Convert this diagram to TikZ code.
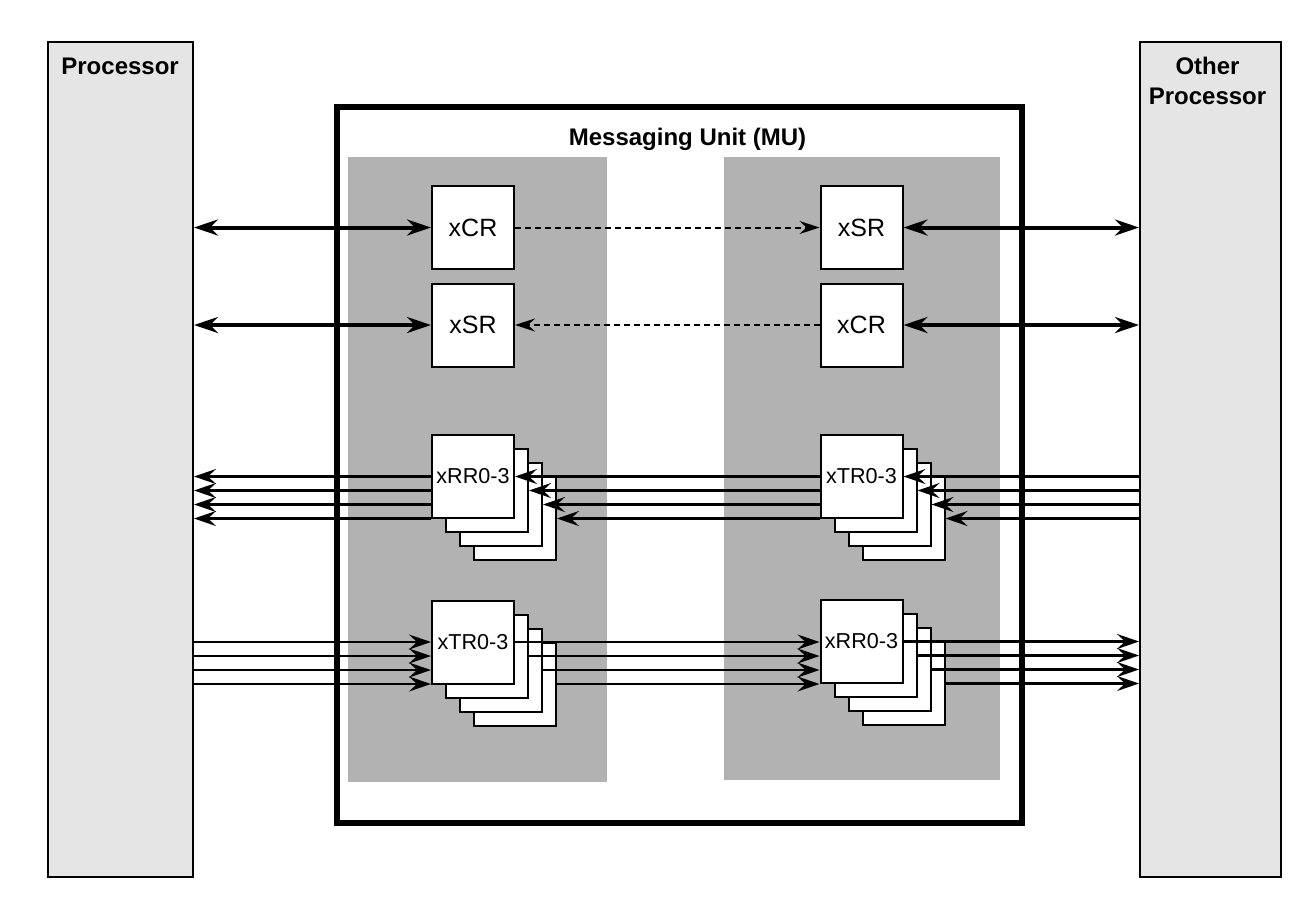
\documentclass[tikz,border=0pt]{standalone}
\usepackage{fontspec}
\setmainfont{Liberation Sans}
\usetikzlibrary{arrows.meta}
\definecolor{procgray}{gray}{0.9}
\definecolor{mugray}{gray}{0.7}
\tikzset{
  regbox/.style={draw=black, line width=1pt, fill=white, minimum width=41pt,
    minimum height=41.5pt, inner sep=0pt, font=\fontsize{12.5}{14}\selectfont},
  procbox/.style={draw=black, line width=1pt, fill=procgray, inner sep=0pt},
  titletext/.style={font=\bfseries\fontsize{12}{15}\selectfont, inner sep=0pt},
  boldarrow/.style={line width=2pt,
    {Stealth[length=12pt,width=8pt,inset=4pt]}-{Stealth[length=12pt,width=8pt,inset=4pt]}},
  sigarrow/.style={line width=1.1pt, -{Stealth[length=11pt,width=7.5pt,inset=4pt]}},
  dasharrow/.style={line width=1pt, dash pattern=on 3pt off 2pt,
    -{Stealth[length=10pt,width=6.5pt,inset=3.5pt]}},
}
% stack of four register boxes, front one labelled
\newcommand{\regstack}[4]{%
  \foreach \k in {3,2,1}{\node[regbox] (#1\k) at ({#2+14*\k},{#3+14*\k}) {};}
  \node[regbox,font=\fontsize{10.8}{12}\selectfont] (#10) at (#2,#3) {#4};}

\begin{document}
\begin{tikzpicture}[x=0.5pt,y=-0.5pt]
\useasboundingbox (0,0) rectangle (1296,918);
% processors
\node[procbox, minimum width=72.5pt, minimum height=417.5pt] (proc) at (120.5,459.5) {};
\node[procbox, minimum width=70.5pt, minimum height=417.5pt] (oproc) at (1210.5,459.5) {};
\node[titletext, anchor=base west] (proclabel) at ([shift={(14,33)}]proc.north west) {Processor};
\node[titletext, anchor=north, align=center] (oproclabel) at ([shift={(-3,16)}]oproc.north) {Other\\Processor};
% messaging unit
\node[draw=black, line width=3pt, minimum width=342.5pt, minimum height=358pt, inner sep=0pt] (mu) at (679.5,465) {};
\node[titletext, anchor=base] (mulabel) at ([shift={(8,41)}]mu.north) {Messaging Unit (MU)};
\fill[mugray] (348,157) rectangle (607,782);
\fill[mugray] (724,157) rectangle (1000,780);
% doorbell registers
\node[regbox] (xcrL) at (473,227.5) {xCR};
\node[regbox] (xsrL) at (473,325) {xSR};
\node[regbox] (xsrR) at (861.5,227.5) {xSR};
\node[regbox] (xcrR) at (861.5,325) {xCR};
\draw[boldarrow] (proc.east |- xcrL.west) -- (xcrL.west);
\draw[boldarrow] (proc.east |- xsrL.west) -- (xsrL.west);
\draw[boldarrow] (xsrR.east) -- (oproc.west |- xsrR.east);
\draw[boldarrow] (xcrR.east) -- (oproc.west |- xcrR.east);
\draw[dasharrow] (xcrL) -- (xsrR);
\draw[dasharrow] (xcrR) -- (xsrL);
% message registers
\regstack{rrL}{473}{476.5}{xRR0-3}
\regstack{trR}{861.5}{476.5}{xTR0-3}
\regstack{trL}{473}{642}{xTR0-3}
\regstack{rrR}{861.5}{641.5}{xRR0-3}
\foreach \k in {0,...,3}{
  \draw[sigarrow] (oproc.west |- trR\k.east) -- (trR\k.east);
  \draw[sigarrow] (trR0.west |- trR\k.east) -- (rrL\k.east);
  \draw[sigarrow] (rrL0.west |- rrL\k.east) -- (proc.east |- rrL\k.east);
  \draw[sigarrow] (proc.east |- trL\k.east) -- (trL0.west |- trL\k.east);
  \draw[sigarrow] (trL\k.east) -- (rrR0.west |- trL\k.east);
  \draw[sigarrow] (rrR\k.east) -- (oproc.west |- rrR\k.east);
}
\end{tikzpicture}
\end{document}
